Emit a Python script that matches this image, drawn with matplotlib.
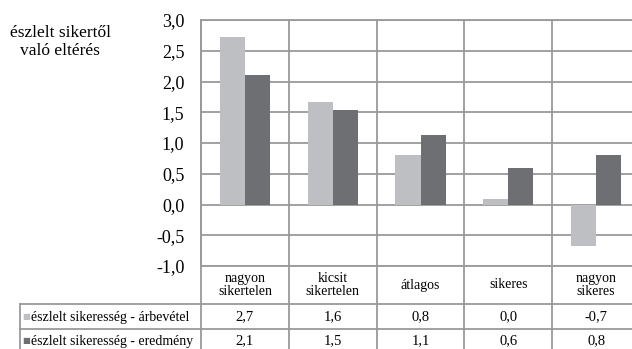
import matplotlib.pyplot as plt
from matplotlib.lines import Line2D

plt.rcParams['font.family'] = ['Liberation Serif', 'DejaVu Sans']

# categories and values
categories = ["nagyon\nsikertelen", "kicsit\nsikertelen", "átlagos", "sikeres", "nagyon\nsikeres"]
arbevetel = [2.73, 1.66, 0.80, 0.09, -0.67]
eredmeny = [2.10, 1.53, 1.13, 0.60, 0.81]
arbevetel_table = ["2,7", "1,6", "0,8", "0,0", "-0,7"]
eredmeny_table = ["2,1", "1,5", "1,1", "0,6", "0,8"]
series_names = ["észlelt sikeresség - árbevétel", "észlelt sikeresség - eredmény"]
yticks = [-1.0, -0.5, 0.0, 0.5, 1.0, 1.5, 2.0, 2.5, 3.0]

light = '#bebfc3'
dark = '#6e6f73'
grid_c = '#9a9a9a'

W, H = 632, 349
fig = plt.figure(figsize=(W / 100, H / 100), dpi=100)
# plot area in pixels: x 201..640, y 20..266
ax = fig.add_axes([201 / W, 1 - 266 / H, 439 / W, 246 / H])

x = list(range(len(categories)))
bw = 0.285
ax.bar([i - bw / 2 for i in x], arbevetel, width=bw, color=light, zorder=3)
ax.bar([i + bw / 2 for i in x], eredmeny, width=bw, color=dark, zorder=3)

ax.set_xlim(-0.5, 4.5)
ax.set_ylim(-1, 3)
ax.set_yticks(yticks)
ax.set_yticklabels([f"{v:.1f}".replace('.', ',') for v in yticks])
ax.set_xticks([])
ax.tick_params(axis='y', length=0, pad=12, labelsize=13)
ax.yaxis.grid(True, color=grid_c, lw=1.3)
ax.set_axisbelow(True)
for s in ax.spines.values():
    s.set_color(grid_c)
    s.set_linewidth(1.3)

# vertical lines through plot and table
def fy(py):
    return (266 - py) / 246

for b in [-0.5, 0.5, 1.5, 2.5, 3.5]:
    ax.axvline(b, ymin=fy(360), ymax=1, color=grid_c, lw=1.3, clip_on=False, zorder=1)

# horizontal table lines
for py in [304, 329]:
    fig.add_artist(Line2D([20 / W, 1], [1 - py / H] * 2, color=grid_c, lw=1.3))
fig.add_artist(Line2D([20 / W] * 2, [1 - 304 / H, 0], color=grid_c, lw=1.3))

tr = ax.get_xaxis_transform()
for i, c in enumerate(categories):
    ax.text(i, fy(285), c, transform=tr, ha='center', va='center',
            fontsize=10, linespacing=1.0, clip_on=False)
    ax.text(i, fy(317), arbevetel_table[i], transform=tr, ha='center', va='center',
            fontsize=10.5, clip_on=False)
    ax.text(i, fy(341), eredmeny_table[i], transform=tr, ha='center', va='center',
            fontsize=10.5, clip_on=False)

for py, name, col in [(317, series_names[0], light), (341, series_names[1], dark)]:
    fig.text(22 / W, 1 - py / H, '■', color=col, fontsize=6, family='DejaVu Sans',
             ha='left', va='center')
    fig.text(31 / W, 1 - py / H, name, fontsize=10, ha='left', va='center')

fig.text(60 / W, 1 - 42 / H, "észlelt sikertől\nvaló eltérés", fontsize=12.5,
         ha='center', va='center', linespacing=1.2)

fig.savefig('out.png', dpi=100)
